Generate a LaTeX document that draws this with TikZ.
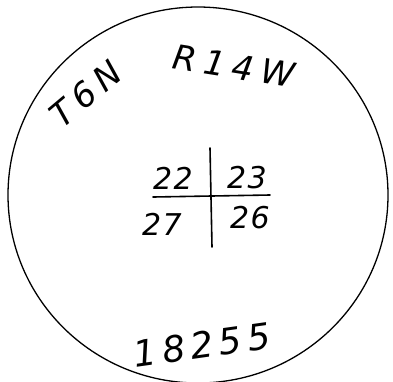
\documentclass[tikz,border=0pt]{standalone}
\usepackage{fontspec}
\setmainfont{DejaVu Sans}
\begin{document}
\begin{tikzpicture}[x=1pt,y=-1pt,
  hand/.style 2 args={font=\itshape\fontsize{#1}{#1}\selectfont\addfontfeature{LetterSpace=#2}, inner sep=0pt},
  pen/.style={line width=1.6pt, line cap=round}]
\useasboundingbox (0,0) rectangle (393,381);
\fill[white] (0,0) rectangle (393,381);
\draw[line width=1.3pt] (198,195) ellipse [x radius=190, y radius=188];
% township / range
\node[hand={34}{20}, rotate=40] (twp) at (86,94) {T6N};
\node[hand={34}{22}, rotate=-9] (rng) at (234,66) {R14W};
% section corner
\coordinate (vt) at (210,148);
\coordinate (vb) at (212,247);
\coordinate (hl) at (153,197);
\coordinate (hr) at (270,195);
\draw[pen] (vt) -- (vb);
\draw[pen] (hl) -- (hr);
\node[hand={30}{5}] (s22) at (173,178) {22};
\node[hand={30}{5}] (s23) at (247,178) {23};
\node[hand={30}{5}] (s27) at (162,224) {27};
\node[hand={30}{5}] (s26) at (250,218) {26};
% number
\node[hand={36}{16}, rotate=8] (num) at (202,345) {18255};
\end{tikzpicture}
\end{document}
